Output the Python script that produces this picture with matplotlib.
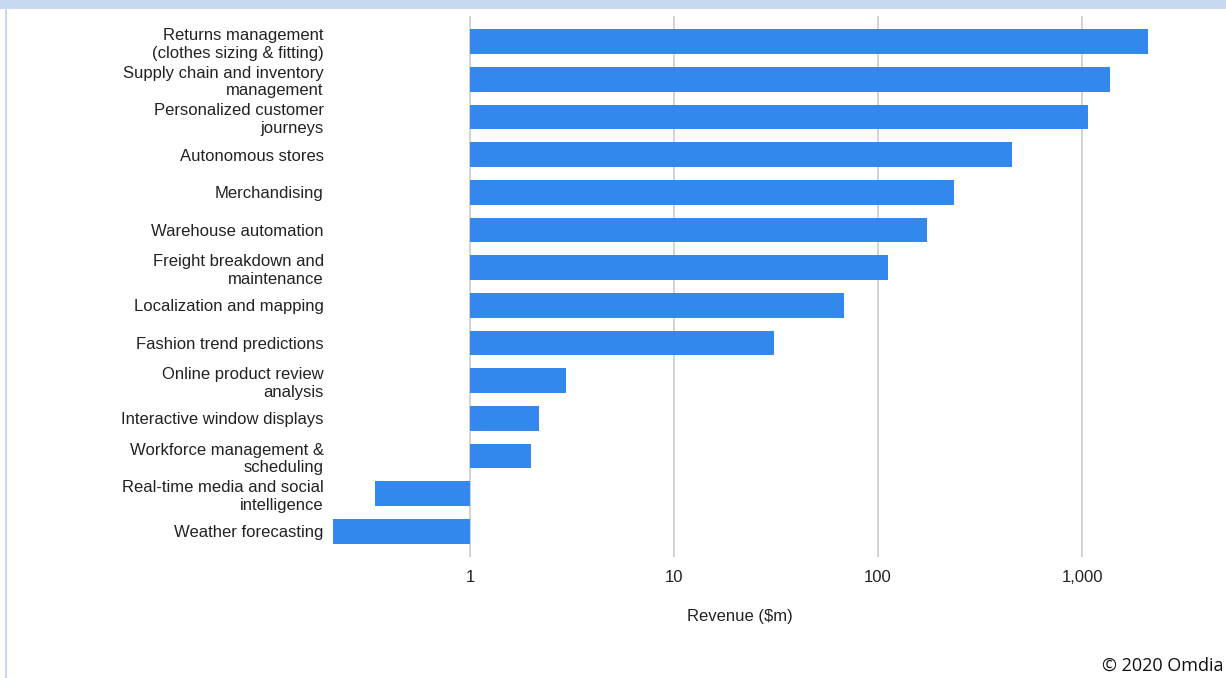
"""Revenue by AI use case in retail, log-scale horizontal bars."""

import matplotlib
matplotlib.use("Agg")
import matplotlib.pyplot as plt
from matplotlib.patches import Rectangle
from matplotlib.ticker import FixedLocator, NullLocator

W, H = 1226, 678

use_cases = [
    "Returns management\n(clothes sizing & fitting)",
    "Supply chain and inventory\nmanagement",
    "Personalized customer\njourneys",
    "Autonomous stores",
    "Merchandising",
    "Warehouse automation",
    "Freight breakdown and\nmaintenance",
    "Localization and mapping",
    "Fashion trend predictions",
    "Online product review\nanalysis",
    "Interactive window displays",
    "Workforce management &\nscheduling",
    "Real-time media and social\nintelligence",
    "Weather forecasting",
]
revenue = [2100, 1370, 1070, 454, 236, 174, 112, 68, 31, 2.96, 2.18, 1.99, 0.342, 0.213]
ticks = [1, 10, 100, 1000]
tick_labels = ["1", "10", "100", "1,000"]

BAR = "#3388ee"
GRID = "#cccccc"
FRAME = "#c6d9f1"
TXT = "#222222"

plt.rcParams.update({
    "font.family": ["Liberation Sans", "DejaVu Sans"],
    "font.size": 12,
})

fig = plt.figure(figsize=(W / 100, H / 100), dpi=100)

# axes placed in pixels: 1 sits at x=470, one decade = 204 px
ax_l, ax_r, ax_t, ax_b = 330, 1200, 16, 557
ax = fig.add_axes([ax_l / W, 1 - ax_b / H, (ax_r - ax_l) / W, (ax_b - ax_t) / H])
ax.set_xscale("log")
ax.set_xlim(10 ** ((ax_l - 470) / 204), 10 ** ((ax_r - 470) / 204))

y = list(range(len(use_cases)))
ax.barh(y, [v - 1 for v in revenue], left=1, height=0.66, color=BAR, zorder=3)
ax.set_ylim(len(use_cases) - 1 + 0.68, -0.68)

ax.xaxis.set_major_locator(FixedLocator(ticks))
ax.xaxis.set_minor_locator(NullLocator())
ax.set_xticklabels(tick_labels)
ax.set_yticks(y)
ax.set_yticklabels(use_cases, linespacing=1.2)
ax.tick_params(axis="both", length=0, colors=TXT, labelsize=12)
ax.tick_params(axis="x", pad=9)
ax.tick_params(axis="y", pad=4.5)
ax.grid(axis="x", color=GRID, lw=1.2, zorder=0)
for s in ax.spines.values():
    s.set_visible(False)

ax.set_xlabel(r"Revenue (\$m)", color=TXT, fontsize=12)
ax.xaxis.set_label_coords((740 - ax_l) / (ax_r - ax_l), -(616 - ax_b) / (ax_b - ax_t))
ax.xaxis.label.set_va("center")

# light blue frame strips along the top and left edge
fig.add_artist(Rectangle((0, 1 - 9 / H), 1, 9 / H, transform=fig.transFigure,
                         color=FRAME, lw=0))
fig.add_artist(Rectangle((5 / W, 0), 2 / W, 1 - 9 / H, transform=fig.transFigure,
                         color=FRAME, lw=0))

fig.text(1 - 3 / W, 1 - 666 / H, "© 2020 Omdia", ha="right", va="center",
         fontsize=13, family=["Open Sans", "DejaVu Sans"], color="#111111")

fig.savefig("out.png", dpi=100, facecolor="white")
